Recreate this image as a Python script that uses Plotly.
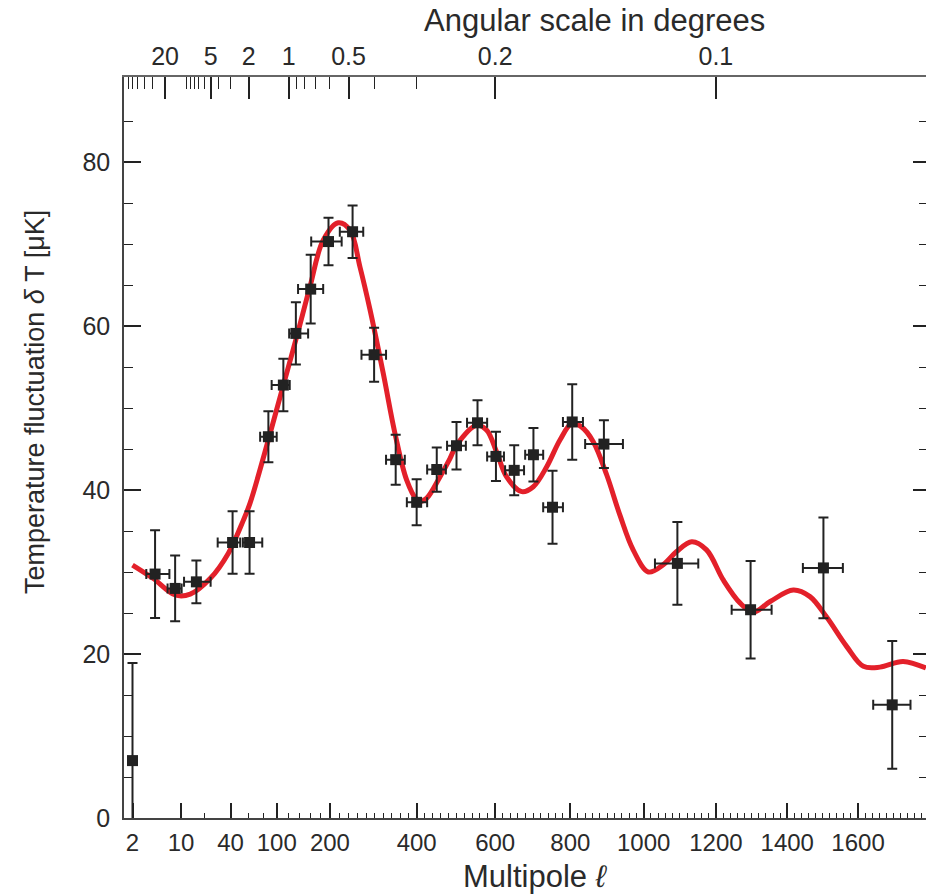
import numpy as np
import plotly.graph_objects as go

# ---- data ----
ell = [2, 4.3, 8.3, 16, 42, 61, 87, 111, 133, 161, 197, 249, 298, 349, 400, 450,
       500, 554, 602, 650, 701, 752, 805, 891, 1093, 1297, 1502, 1697]
dT = [7.0, 29.75, 28.0, 28.8, 33.6, 33.6, 46.5, 52.8, 59.1, 64.5, 70.3, 71.5, 56.5,
      43.7, 38.5, 42.5, 45.4, 48.2, 44.1, 42.4, 44.3, 37.9, 48.3, 45.6, 31.05, 25.4,
      30.5, 13.8]
dT_err = [11.9, 5.35, 4.0, 2.6, 3.8, 3.8, 3.1, 3.2, 3.8, 4.2, 2.9, 3.2, 3.3, 3.05,
          2.8, 2.7, 2.9, 2.75, 3.0, 3.05, 3.25, 4.45, 4.6, 2.9, 5.05, 5.95, 6.15, 7.8]
ell_lo = [2, 3.2, 6.5, 11, 29, 53, 75, 92, 121, 137, 162, 221, 269, 326, 376, 426,
          476, 527, 579, 626, 679, 727, 780, 840, 1031, 1244, 1444, 1643]
ell_hi = [2, 6.9, 10.2, 24, 50, 78, 100, 122, 156, 186, 225, 273, 326, 371, 426, 473,
          524, 579, 623, 676, 727, 780, 834, 943, 1151, 1356, 1557, 1749]

curve_ell = [2, 4.06, 8.3, 13.3, 23.7, 38, 53.5, 61.6, 86.9, 111, 134.5, 159.6, 186.3,
             217.8, 243.3, 265.6, 288.5, 319.5, 347.3, 375.6, 400, 408, 425, 458, 483,
             500.5, 552, 578, 604, 630, 670, 700.6, 736, 772, 803.5, 830, 862, 899, 935,
             971, 1013, 1054, 1091, 1133, 1174, 1221, 1268, 1305, 1352, 1417, 1464, 1511,
             1568, 1615, 1662, 1728, 1793]
curve_dT = [30.85, 29.2, 27.2, 27.3, 29.2, 32.3, 36.3, 38.4, 46.1, 52.8, 58.7, 64.8,
            70.5, 72.6, 71.7, 67.2, 62.0, 54.2, 46.9, 41.2, 38.8, 38.6, 39.0, 41.6, 43.8,
            45.5, 47.9, 47.3, 44.6, 41.6, 39.8, 40.4, 42.8, 46.1, 48.1, 47.7, 45.9, 41.8,
            36.9, 32.7, 30.0, 30.9, 32.5, 33.7, 32.7, 29.0, 26.2, 25.1, 26.4, 27.8, 27.0,
            24.5, 20.9, 18.5, 18.4, 19.1, 18.3]

x_major = [2, 10, 40, 100, 200, 400, 600, 800, 1000, 1200, 1400, 1600]
x_minor = [20, 60, 80] + [v for v in range(120, 1800, 20) if v not in x_major]
theta_major = [20, 5, 2, 1, 0.5, 0.2, 0.1]
theta_major_txt = ["20", "5", "2", "1", "0.5", "0.2", "0.1"]
theta_minor = [90, 80, 70, 60, 50, 40, 30, 10, 9, 8, 7, 6, 4, 3,
               0.9, 0.8, 0.7, 0.6, 0.4, 0.3]
y_major = [0, 20, 40, 60, 80]
y_minor = [v for v in range(5, 90, 5) if v % 20 != 0]


# multipole axis: logarithmic at low l, linear at high l
def scale(l):
    l = np.asarray(l, dtype=float)
    return np.log(l) + l / 85.0


def theta_to_ell(t):
    return 120.0 / np.asarray(t, dtype=float)


X_RANGE = [0.418, 28.588]
Y_RANGE = [0, 90.37]

FONT = "Liberation Sans, Arial, Helvetica, sans-serif"
TXT = "#2a2a2a"
AX = "#444444"
INK = "#222222"

xs = scale(ell)
err_plus = scale(ell_hi) - xs
err_minus = xs - scale(ell_lo)

fig = go.Figure()

fig.add_trace(go.Scatter(
    x=scale(curve_ell), y=curve_dT, mode="lines",
    line=dict(color="#e3202a", width=5, shape="spline", smoothing=1.0),
    hoverinfo="skip", showlegend=False))

fig.add_trace(go.Scatter(
    x=xs, y=dT, mode="markers",
    marker=dict(symbol="square", size=11, color=INK),
    error_y=dict(type="data", array=dT_err, color=INK, thickness=2, width=5),
    error_x=dict(type="data", array=err_plus, arrayminus=err_minus,
                 color=INK, thickness=2, width=5),
    showlegend=False))

# invisible helpers so the top and right axes get drawn
fig.add_trace(go.Scatter(x=[scale(100)], y=[-50], xaxis="x2", yaxis="y",
                         mode="markers", marker=dict(opacity=0), hoverinfo="skip",
                         showlegend=False))
fig.add_trace(go.Scatter(x=[scale(100)], y=[-50], xaxis="x", yaxis="y2",
                         mode="markers", marker=dict(opacity=0), hoverinfo="skip",
                         showlegend=False))

fig.update_layout(
    width=926, height=895,
    margin=dict(l=124, r=0, t=77, b=77),
    paper_bgcolor="white", plot_bgcolor="white",
    font=dict(family=FONT, color=TXT),
    xaxis=dict(
        range=X_RANGE, showgrid=False, zeroline=False,
        showline=True, linecolor=AX, linewidth=1.5,
        tickmode="array", tickvals=scale(x_major), ticktext=[str(v) for v in x_major],
        ticks="inside", ticklen=15, tickwidth=1.5, tickcolor=INK,
        tickfont=dict(size=24, color=TXT), ticklabelstandoff=2,
        minor=dict(tickmode="array", tickvals=scale(x_minor), ticks="inside",
                   ticklen=5, tickwidth=1.3, tickcolor=INK),
    ),
    xaxis2=dict(
        range=X_RANGE, overlaying="x", side="top", anchor="y",
        showgrid=False, zeroline=False,
        showline=True, linecolor="#666666", linewidth=2,
        tickmode="array", tickvals=scale(theta_to_ell(theta_major)),
        ticktext=theta_major_txt,
        ticks="inside", ticklen=22, tickwidth=1.5, tickcolor=INK,
        tickfont=dict(size=25, color=TXT), ticklabelstandoff=0,
        minor=dict(tickmode="array", tickvals=scale(theta_to_ell(theta_minor)),
                   ticks="inside", ticklen=12, tickwidth=1.3, tickcolor=INK),
    ),
    yaxis=dict(
        range=Y_RANGE, showgrid=False, zeroline=False,
        showline=True, linecolor=AX, linewidth=1.5,
        tickmode="array", tickvals=y_major,
        ticks="inside", ticklen=17, tickwidth=1.5, tickcolor=INK,
        tickfont=dict(size=25, color=TXT), ticklabelstandoff=7,
        minor=dict(tickmode="array", tickvals=y_minor, ticks="inside",
                   ticklen=9, tickwidth=1.3, tickcolor=INK),
    ),
    yaxis2=dict(
        range=Y_RANGE, overlaying="y", side="right", anchor="x",
        showgrid=False, zeroline=False, showline=False, showticklabels=False,
        tickmode="array", tickvals=y_major,
        ticks="inside", ticklen=13, tickwidth=1.5, tickcolor=INK,
        minor=dict(tickmode="array", tickvals=y_minor, ticks="inside",
                   ticklen=7, tickwidth=1.3, tickcolor=INK),
    ),
    annotations=[
        dict(text="Temperature fluctuation <i>δ</i> T [μK]", xref="paper", yref="paper",
             x=-0.111, y=0.5614, xanchor="center", yanchor="middle", textangle=-90,
             showarrow=False, font=dict(size=27, color=TXT, family=FONT)),
        dict(text="Multipole <i>ℓ</i>", xref="paper", yref="paper",
             x=0.5125, y=-0.0796, xanchor="center", yanchor="middle",
             showarrow=False, font=dict(size=31, color=TXT, family=FONT)),
        dict(text="Angular scale in degrees", xref="paper", yref="paper",
             x=0.587, y=1.0765, xanchor="center", yanchor="middle",
             showarrow=False, font=dict(size=31, color=TXT, family=FONT)),
    ],
)

fig.write_html("out.html")
